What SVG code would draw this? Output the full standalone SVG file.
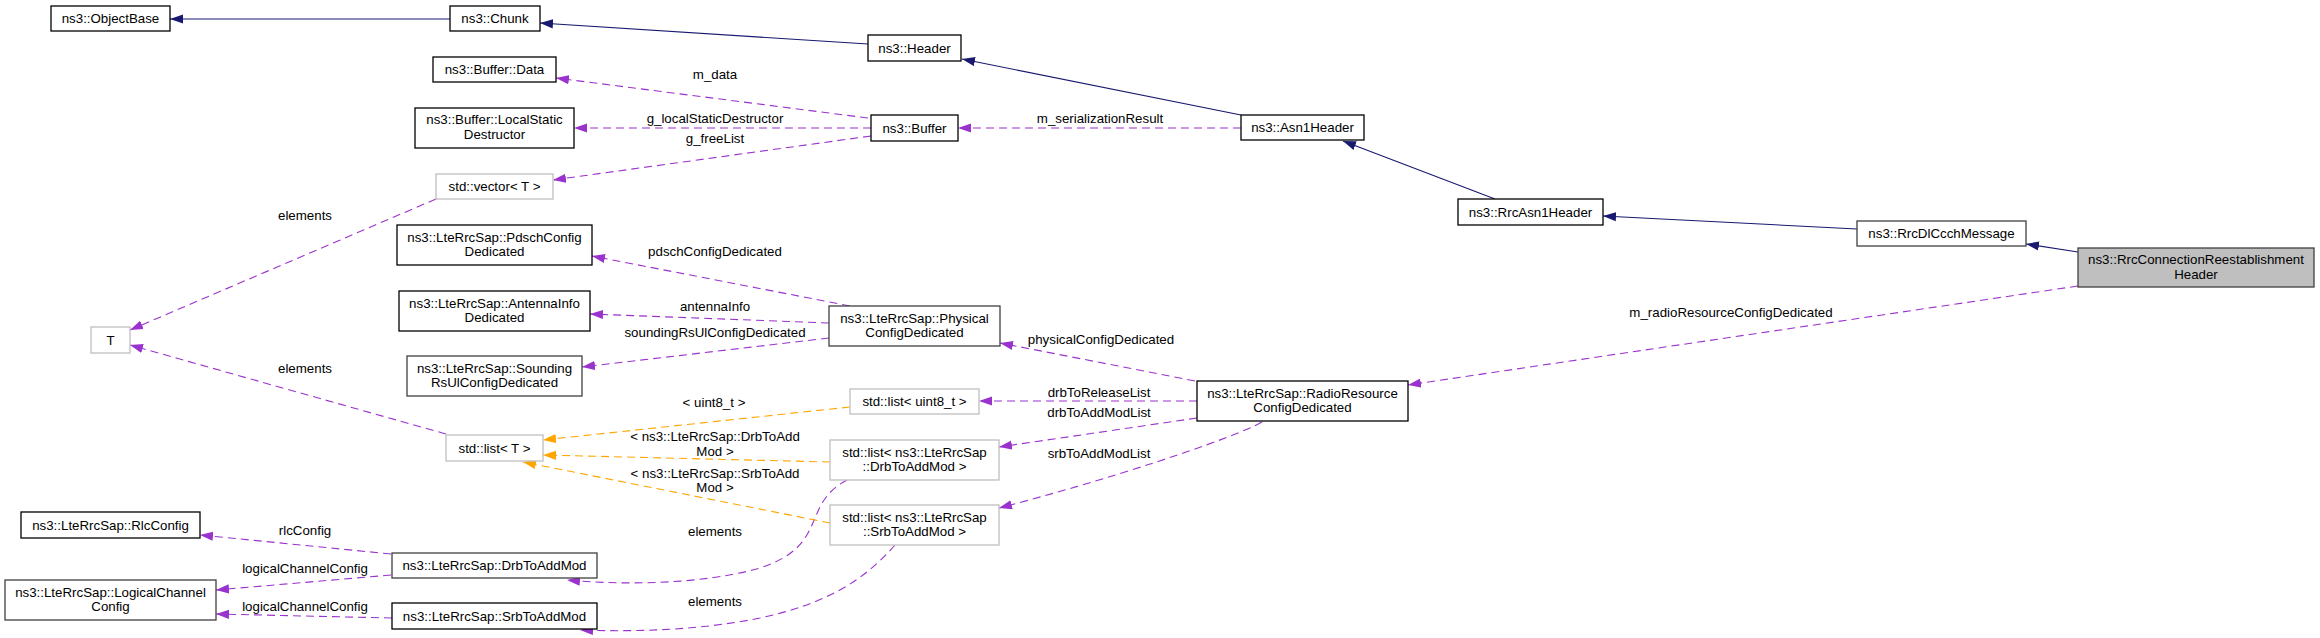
<svg xmlns="http://www.w3.org/2000/svg" width="2320" height="638" viewBox="0 0 2320 638">
<style>
text{font-family:"Liberation Sans",Arial,Helvetica,sans-serif;font-size:13.3px;fill:#000;text-anchor:middle}
.n rect{fill:#fff;stroke:#000;stroke-width:1.3}
.d rect{stroke:#404040}
.g rect{stroke:#bfbfbf}
.tg rect{fill:#bfbfbf;stroke:#404040}
.inh{fill:none;stroke:#191970;stroke-width:1.1;marker-end:url(#ab)}
.use{fill:none;stroke:#9a32cd;stroke-width:1.1;stroke-dasharray:8,5;marker-end:url(#ap)}
.tpl{fill:none;stroke:#ffa500;stroke-width:1.1;stroke-dasharray:8,5;marker-end:url(#ao)}
</style>
<defs>
<marker id="ab" viewBox="0 0 13 10" refX="13" refY="5" markerWidth="13" markerHeight="10" markerUnits="userSpaceOnUse" orient="auto"><path d="M0,0.4 L13,5 L0,9.6 z" fill="#191970"/></marker>
<marker id="ap" viewBox="0 0 13 10" refX="13" refY="5" markerWidth="13" markerHeight="10" markerUnits="userSpaceOnUse" orient="auto"><path d="M0,0.4 L13,5 L0,9.6 z" fill="#9a32cd"/></marker>
<marker id="ao" viewBox="0 0 13 10" refX="13" refY="5" markerWidth="13" markerHeight="10" markerUnits="userSpaceOnUse" orient="auto"><path d="M0,0.4 L13,5 L0,9.6 z" fill="#ffa500"/></marker>
</defs>
<rect width="2320" height="638" fill="#fff"/>
<g id="connectors">
<path class="inh" d="M450,19 L170,19"/>
<path class="inh" d="M868,44 L540,23"/>
<path class="inh" d="M1241,115 L962,59"/>
<path class="inh" d="M1495,199 L1343,141"/>
<path class="inh" d="M1857,229 L1603,216"/>
<path class="inh" d="M2078,252 L2026,244"/>
<path class="use" d="M868,118 L556,78"/>
<path class="use" d="M871,128 L574,128"/>
<path class="use" d="M871,136 L553,180"/>
<path class="use" d="M1241,128 L958,128"/>
<path class="use" d="M436,199 L130,330"/>
<path class="use" d="M446,434 L130,345"/>
<path class="use" d="M850,306 L592,256"/>
<path class="use" d="M829,323 L590,314"/>
<path class="use" d="M829,338 L582,367"/>
<path class="use" d="M1195,381 L1000,343"/>
<path class="use" d="M1197,401 L979,401"/>
<path class="use" d="M1197,418 L999,447"/>
<path class="use" d="M1262,422 C1230,440 1100,482 999,508"/>
<path class="use" d="M2078,286 L1408,385"/>
<path class="use" d="M847,480 C800,505 830,545 760,568 C700,585 620,585 567,580"/>
<path class="use" d="M895,545 C860,585 820,605 760,618 C700,630 640,632 580,630"/>
<path class="use" d="M391,554 L200,535"/>
<path class="use" d="M391,575 L216,590"/>
<path class="use" d="M392,618 L216,614"/>
<path class="tpl" d="M850,407 L543,440"/>
<path class="tpl" d="M830,462 L543,455"/>
<path class="tpl" d="M830,523 L523,462"/>
<text x="715" y="79">m_data</text>
<text x="715" y="123">g_localStaticDestructor</text>
<text x="715" y="143">g_freeList</text>
<text x="1100" y="123">m_serializationResult</text>
<text x="305" y="220">elements</text>
<text x="305" y="373">elements</text>
<text x="715" y="256">pdschConfigDedicated</text>
<text x="715" y="311">antennaInfo</text>
<text x="715" y="337">soundingRsUlConfigDedicated</text>
<text x="1101" y="344">physicalConfigDedicated</text>
<text x="1099" y="397">drbToReleaseList</text>
<text x="1099" y="417">drbToAddModList</text>
<text x="1099" y="458">srbToAddModList</text>
<text x="1731" y="317">m_radioResourceConfigDedicated</text>
<text x="715" y="536">elements</text>
<text x="715" y="606">elements</text>
<text x="305" y="535">rlcConfig</text>
<text x="305" y="573">logicalChannelConfig</text>
<text x="305" y="611">logicalChannelConfig</text>
<text x="714" y="407">&lt; uint8_t &gt;</text>
<text x="715" y="441">&lt; ns3::LteRrcSap::DrbToAdd</text>
<text x="715" y="456">Mod &gt;</text>
<text x="715" y="478">&lt; ns3::LteRrcSap::SrbToAdd</text>
<text x="715" y="492">Mod &gt;</text>
</g>
<g id="ObjectBase" class="n"><rect x="51" y="6" width="119" height="25"/><text x="110.5" y="23">ns3::ObjectBase</text></g>
<g id="Chunk" class="n"><rect x="450" y="6" width="90" height="25"/><text x="495" y="23">ns3::Chunk</text></g>
<g id="Header" class="n"><rect x="868" y="35" width="93" height="26"/><text x="914.5" y="52.5">ns3::Header</text></g>
<g id="BufferData" class="n"><rect x="433" y="57" width="123" height="25"/><text x="494.5" y="74">ns3::Buffer::Data</text></g>
<g id="LocalStaticDestructor" class="n"><rect x="415" y="108" width="159" height="40"/><text x="494.5" y="124">ns3::Buffer::LocalStatic</text><text x="494.5" y="138.5">Destructor</text></g>
<g id="Buffer" class="n"><rect x="871" y="115" width="87" height="26"/><text x="914.5" y="132.5">ns3::Buffer</text></g>
<g id="Asn1Header" class="n"><rect x="1241" y="115" width="123" height="25"/><text x="1302.5" y="132">ns3::Asn1Header</text></g>
<g id="vector" class="n g"><rect x="436" y="174" width="117" height="25"/><text x="494.5" y="191">std::vector&lt; T &gt;</text></g>
<g id="RrcAsn1Header" class="n"><rect x="1458" y="199" width="145" height="26"/><text x="1530.5" y="216.5">ns3::RrcAsn1Header</text></g>
<g id="RrcDlCcchMessage" class="n d"><rect x="1857" y="221" width="169" height="25"/><text x="1941.5" y="238">ns3::RrcDlCcchMessage</text></g>
<g id="RrcConnectionReestablishmentHeader" class="n tg"><rect x="2078" y="248" width="236" height="39"/><text x="2196" y="264">ns3::RrcConnectionReestablishment</text><text x="2196" y="278.5">Header</text></g>
<g id="PdschConfigDedicated" class="n"><rect x="397" y="225" width="195" height="40"/><text x="494.5" y="241.5">ns3::LteRrcSap::PdschConfig</text><text x="494.5" y="256">Dedicated</text></g>
<g id="AntennaInfoDedicated" class="n"><rect x="399" y="291" width="191" height="40"/><text x="494.5" y="307.5">ns3::LteRrcSap::AntennaInfo</text><text x="494.5" y="322">Dedicated</text></g>
<g id="SoundingRsUlConfigDedicated" class="n d"><rect x="407" y="356" width="175" height="40"/><text x="494.5" y="372.5">ns3::LteRrcSap::Sounding</text><text x="494.5" y="387">RsUlConfigDedicated</text></g>
<g id="T" class="n g"><rect x="91" y="327" width="39" height="26"/><text x="110.5" y="344.5">T</text></g>
<g id="PhysicalConfigDedicated" class="n d"><rect x="829" y="306" width="171" height="40"/><text x="914.5" y="322.5">ns3::LteRrcSap::Physical</text><text x="914.5" y="337">ConfigDedicated</text></g>
<g id="list_uint8" class="n g"><rect x="850" y="389" width="129" height="25"/><text x="914.5" y="406">std::list&lt; uint8_t &gt;</text></g>
<g id="RadioResourceConfigDedicated" class="n"><rect x="1197" y="381" width="211" height="40"/><text x="1302.5" y="397.5">ns3::LteRrcSap::RadioResource</text><text x="1302.5" y="412">ConfigDedicated</text></g>
<g id="list_T" class="n g"><rect x="446" y="435" width="97" height="26"/><text x="494.5" y="452.5">std::list&lt; T &gt;</text></g>
<g id="list_Drb" class="n g"><rect x="830" y="440" width="169" height="40"/><text x="914.5" y="456.5">std::list&lt; ns3::LteRrcSap</text><text x="914.5" y="471">::DrbToAddMod &gt;</text></g>
<g id="list_Srb" class="n g"><rect x="830" y="505" width="169" height="40"/><text x="914.5" y="521.5">std::list&lt; ns3::LteRrcSap</text><text x="914.5" y="536">::SrbToAddMod &gt;</text></g>
<g id="RlcConfig" class="n"><rect x="21" y="512" width="179" height="26"/><text x="110.5" y="529.5">ns3::LteRrcSap::RlcConfig</text></g>
<g id="LogicalChannelConfig" class="n d"><rect x="5" y="580" width="211" height="40"/><text x="110.5" y="596.5">ns3::LteRrcSap::LogicalChannel</text><text x="110.5" y="611">Config</text></g>
<g id="DrbToAddMod" class="n d"><rect x="392" y="553" width="205" height="25"/><text x="494.5" y="570">ns3::LteRrcSap::DrbToAddMod</text></g>
<g id="SrbToAddMod" class="n"><rect x="392" y="603" width="205" height="26"/><text x="494.5" y="620.5">ns3::LteRrcSap::SrbToAddMod</text></g>
</svg>
